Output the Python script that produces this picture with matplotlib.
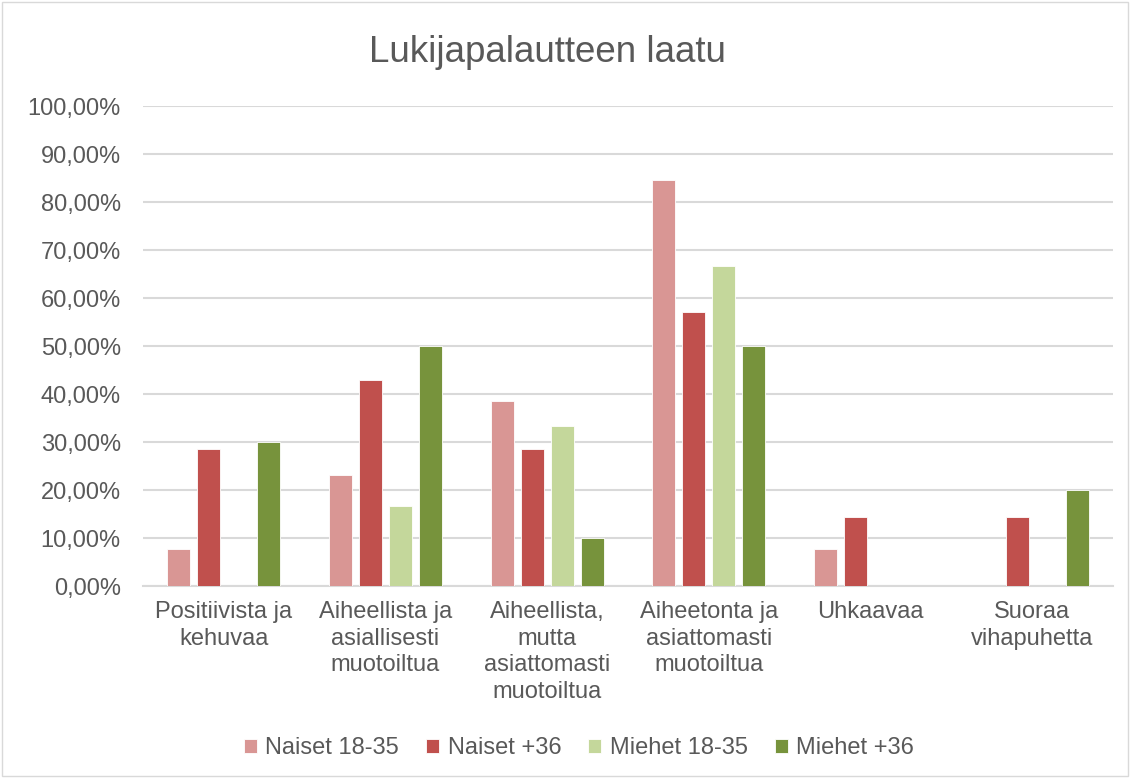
import matplotlib
matplotlib.use("Agg")
import matplotlib.pyplot as plt
from matplotlib.patches import Rectangle
import numpy as np

plt.rcParams['font.family'] = ['Liberation Sans', 'DejaVu Sans']

categories = ["Positiivista ja\nkehuvaa",
              "Aiheellista ja\nasiallisesti\nmuotoiltua",
              "Aiheellista,\nmutta\nasiattomasti\nmuotoiltua",
              "Aiheetonta ja\nasiattomasti\nmuotoiltua",
              "Uhkaavaa",
              "Suoraa\nvihapuhetta"]
series_names = ["Naiset 18-35", "Naiset +36", "Miehet 18-35", "Miehet +36"]
naiset_18_35 = [7.69, 23.08, 38.46, 84.62, 7.69, 0.0]
naiset_36 = [28.57, 42.86, 28.57, 57.14, 14.29, 14.29]
miehet_18_35 = [0.0, 16.67, 33.33, 66.67, 0.0, 0.0]
miehet_36 = [30.0, 50.0, 10.0, 50.0, 0.0, 20.0]
colors = ["#D99694", "#C0504D", "#C4D79B", "#77933C"]
title = "Lukijapalautteen laatu"
yticks = [0, 10, 20, 30, 40, 50, 60, 70, 80, 90, 100]
ytick_labels = ["0,00%", "10,00%", "20,00%", "30,00%", "40,00%", "50,00%",
                "60,00%", "70,00%", "80,00%", "90,00%", "100,00%"]

series = [naiset_18_35, naiset_36, miehet_18_35, miehet_36]

W, H = 1130, 778
fig = plt.figure(figsize=(W / 100, H / 100), dpi=100)
fig.patches.append(Rectangle((2 / W, 2 / H), 1 - 4 / W, 1 - 4 / H, transform=fig.transFigure,
                             fill=False, edgecolor="#D9D9D9", linewidth=1))

ax = fig.add_axes([143 / W, 1 - 586 / H, (1113 - 143) / W, (586 - 106) / H])
text_color = "#595959"
fs = 17

x = np.arange(len(categories))
bw = 0.142
step = 0.1855
for i, (vals, col, name) in enumerate(zip(series, colors, series_names)):
    ax.bar(x + (i - 1.5) * step, vals, width=bw, color=col, label=name,
           edgecolor="white", linewidth=0.6, zorder=3)

ax.set_xlim(-0.5, len(categories) - 0.5)
ax.set_ylim(0, 100)
ax.set_yticks(yticks)
ax.set_yticklabels(ytick_labels, fontsize=fs, color=text_color)
ax.set_xticks(x)
ax.set_xticklabels(categories, fontsize=fs, color=text_color, linespacing=1.27)
ax.tick_params(axis='x', length=0, pad=11)
ax.tick_params(axis='y', length=0, pad=16)
ax.grid(axis='y', color="#D9D9D9", linewidth=1.5, zorder=0)
for s in ["top", "right", "left"]:
    ax.spines[s].set_visible(False)
ax.spines["bottom"].set_color("#D9D9D9")
ax.spines["bottom"].set_linewidth(1.5)

fig.text(547 / W, 1 - 52 / H, title, ha="center", va="center", fontsize=26.5, color=text_color)

handles, labels = ax.get_legend_handles_labels()
fig.legend(handles, labels, loc="center", bbox_to_anchor=(579 / W, 1 - 748 / H), ncol=4,
           frameon=False, fontsize=fs, labelcolor=text_color, handlelength=0.55,
           handleheight=0.55, handletextpad=0.35, columnspacing=1.15)

fig.savefig("out.png", dpi=100)
